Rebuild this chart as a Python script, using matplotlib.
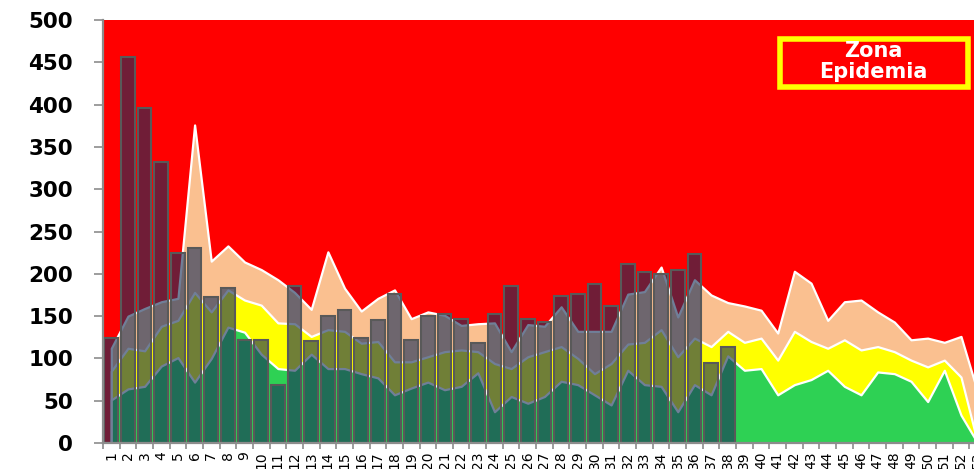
import numpy as np
import matplotlib
matplotlib.use("Agg")
from matplotlib import pyplot as plt
from matplotlib.patches import Rectangle

# semanas epidemiologicas 1-53
semanas = np.arange(1, 54)
etiquetas = [str(s) for s in semanas]

# limites superiores de cada zona del canal endemico
exito = [51, 64, 67, 91, 101, 72, 100, 137, 131, 105,
         88, 86, 105, 88, 88, 82, 77, 57, 65, 72,
         63, 67, 83, 37, 55, 47, 55, 73, 69, 57,
         45, 86, 69, 67, 37, 69, 57, 103, 86, 88,
         57, 69, 75, 86, 67, 57, 84, 82, 73, 49,
         86, 33, 0]
seguridad = [85, 112, 109, 138, 145, 178, 155, 181, 169, 163,
             142, 141, 126, 134, 132, 118, 120, 96, 96, 102,
             108, 110, 108, 94, 88, 102, 108, 114, 100, 82,
             94, 117, 119, 134, 102, 124, 114, 132, 119, 124,
             98, 132, 120, 112, 122, 110, 114, 108, 98, 90,
             98, 78, 0]
alarma = [112, 150, 159, 167, 171, 376, 215, 233, 214, 205,
          193, 178, 158, 226, 183, 156, 171, 181, 147, 155,
          151, 139, 141, 142, 108, 140, 138, 161, 132, 132,
          132, 176, 179, 208, 149, 193, 175, 166, 162, 157,
          130, 203, 189, 145, 167, 169, 155, 143, 122, 124,
          119, 126, 60]

# casos notificados por semana
casos = [124, 456, 396, 332, 225, 231, 173, 183, 122, 122,
         69, 186, 120, 150, 157, 124, 145, 176, 122, 150,
         153, 147, 118, 152, 186, 147, 143, 174, 176, 188,
         162, 212, 202, 200, 204, 224, 94, 114]

fig = plt.figure(figsize=(9.74, 4.69), dpi=100)
ax = fig.add_axes([0.1057, 0.0554, 0.9066, 0.9019])
ax.set_facecolor("#FF0000")

ax.fill_between(semanas, 0, alarma, facecolor="#FAC090", edgecolor="white", linewidth=1.6, zorder=1)
ax.fill_between(semanas, 0, seguridad, facecolor="#FFFF00", edgecolor="white", linewidth=1.6, zorder=1)
ax.fill_between(semanas, 0, exito, facecolor="#2ED154", edgecolor="white", linewidth=1.6, zorder=1)

ax.bar(semanas[:len(casos)], casos, width=0.82,
       facecolor=(24/255, 48/255, 89/255, 0.62), edgecolor="#595959", linewidth=1.5, zorder=3)

ax.set_xlim(0.5, 53.5)
ax.set_ylim(0, 500)
ax.set_yticks(np.arange(0, 501, 50))
ax.set_xticks(semanas)
ax.set_xticklabels(etiquetas, rotation=90, fontsize=10)
ax.set_xticks(np.arange(0.5, 54, 1), minor=True)
ax.tick_params(axis="x", which="major", length=0, pad=6)
ax.tick_params(axis="x", which="minor", length=4, color="#8c8c8c", width=1.2)
ax.tick_params(axis="y", length=6.5, pad=15, color="#8c8c8c", width=1.2, labelsize=15.5)
for lab in ax.get_yticklabels():
    lab.set_fontweight("bold")

for lado in ["top", "right"]:
    ax.spines[lado].set_visible(False)
for lado in ["left", "bottom"]:
    ax.spines[lado].set_color("#8c8c8c")
    ax.spines[lado].set_linewidth(1.6)
    ax.spines[lado].set_zorder(4)

# recuadro de la zona superior
fig.patches.append(Rectangle((0.8005, 0.8149), 0.1936, 0.1015, transform=fig.transFigure,
                             fill=False, edgecolor="#FFFF00", linewidth=4, zorder=5))
fig.text(0.8966, 0.8685, "Zona\nEpidemia", color="white", fontsize=15, fontweight="bold",
         ha="center", va="center", linespacing=1.1, zorder=6)

fig.savefig("out.png", dpi=100)
